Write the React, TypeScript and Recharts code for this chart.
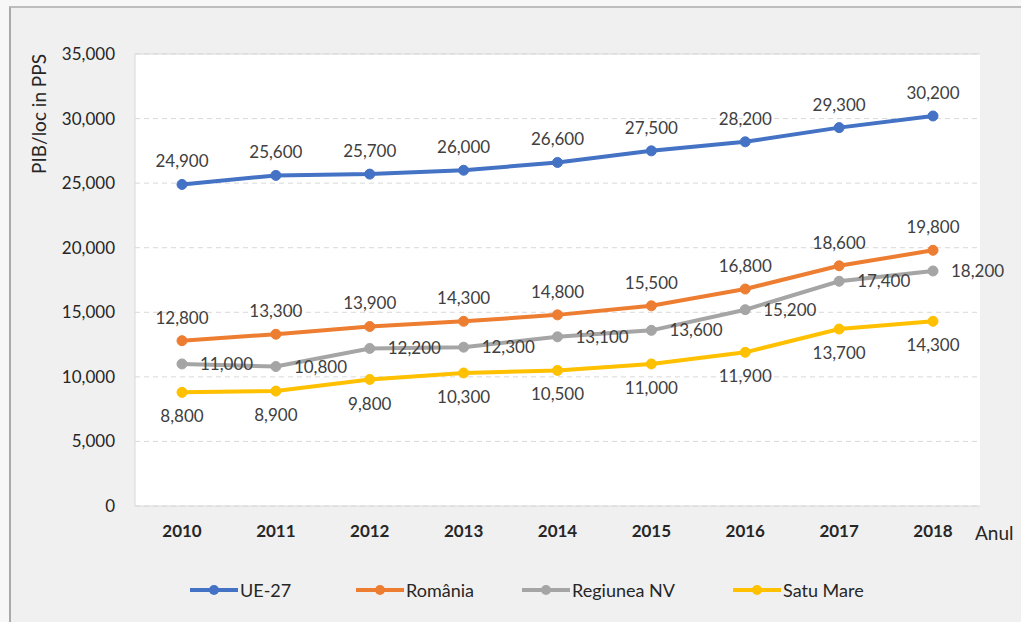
import React from 'react';
import {
  LineChart,
  Line,
  XAxis,
  YAxis,
  CartesianGrid,
  LabelList,
  ReferenceLine,
  Label
} from 'recharts';

// values (PIB/loc in PPS)
const years = ['2010', '2011', '2012', '2013', '2014', '2015', '2016', '2017', '2018'];
const ue27 = [24900, 25600, 25700, 26000, 26600, 27500, 28200, 29300, 30200];
const romania = [12800, 13300, 13900, 14300, 14800, 15500, 16800, 18600, 19800];
const regiuneaNV = [11000, 10800, 12200, 12300, 13100, 13600, 15200, 17400, 18200];
const satuMare = [8800, 8900, 9800, 10300, 10500, 11000, 11900, 13700, 14300];
const yTicks = [0, 5000, 10000, 15000, 20000, 25000, 30000, 35000];

const FONT = 'Lato, "Open Sans", sans-serif';

const series = [
  { key: 'ue27', name: 'UE-27', color: '#4472C4', pos: 'top', offset: 17, values: ue27 },
  { key: 'romania', name: 'România', color: '#ED7D31', pos: 'top', offset: 17, values: romania },
  { key: 'regiuneaNV', name: 'Regiunea NV', color: '#A5A5A5', pos: 'right', offset: 18, values: regiuneaNV },
  { key: 'satuMare', name: 'Satu Mare', color: '#FFC000', pos: 'bottom', offset: 18, values: satuMare }
] as const;

const data = years.map((year, i) => {
  const row: Record<string, string | number> = { year };
  series.forEach((s) => {
    row[s.key] = s.values[i];
  });
  return row;
});

const fmt = (v: any) => Number(v).toLocaleString('en-US');

const legendWidths = [166, 166, 211, 130];

const YTitle = (props: any) => {
  const vb = props.viewBox || { x: 0, y: 54 };
  const x = vb.x + 38;
  const y = vb.y + 60;
  return (
    <text
      x={x}
      y={y}
      transform={`rotate(-90, ${x}, ${y})`}
      textAnchor="middle"
      dominantBaseline="central"
      fontFamily={FONT}
      fontSize={19}
      fill="#262626"
    >
      PIB/loc in PPS
    </text>
  );
};

const XTitle = (props: any) => {
  const vb = props.viewBox || { x: 135, y: 506, width: 845 };
  return (
    <text
      x={vb.x + vb.width - 5}
      y={vb.y + 26}
      dominantBaseline="central"
      fontFamily={FONT}
      fontSize={19}
      fill="#262626"
    >
      Anul
    </text>
  );
};

export default function App() {
  return (
    <div style={{ position: 'fixed', left: 0, top: 0, width: 1021, height: 622, background: '#f7f7f7', overflow: 'hidden' }}>
      <div
        style={{
          position: 'absolute',
          left: 9,
          top: 6,
          width: 1030,
          height: 640,
          background: '#f0f0f0',
          borderLeft: '2px solid #a9a9a9',
          borderTop: '2px solid #bdbdbd'
        }}
      />
      <div style={{ position: 'absolute', left: 0, top: 0 }}>
        <LineChart
          width={1021}
          height={622}
          data={data}
          margin={{ top: 54, right: 41, left: 0, bottom: 86 }}
        >
          <CartesianGrid
            vertical={false}
            stroke="#d9d9d9"
            strokeDasharray="5 4"
            fill="#ffffff"
            fillOpacity={1}
          />
          <XAxis
            dataKey="year"
            padding={{ left: 47, right: 47 }}
            height={30}
            tickSize={0}
            tickMargin={19}
            axisLine={{ stroke: '#d9d9d9' }}
            tick={{ fill: '#262626', fontSize: 17, fontWeight: 700, fontFamily: FONT }}
          >
            <Label content={<XTitle />} />
          </XAxis>
          <YAxis
            width={135}
            domain={[0, 35000]}
            ticks={yTicks}
            tickFormatter={fmt}
            tickSize={0}
            tickMargin={20}
            axisLine={{ stroke: '#d9d9d9' }}
            tick={{ fill: '#262626', fontSize: 17, fontFamily: FONT }}
          >
            <Label content={<YTitle />} />
          </YAxis>
          <YAxis
            yAxisId="right"
            orientation="right"
            width={0}
            domain={[0, 35000]}
            tick={false}
            tickLine={false}
            axisLine={{ stroke: '#d9d9d9' }}
          />
          <ReferenceLine y={35000} stroke="#d9d9d9" strokeWidth={1} />
          {series.map((s) => (
            <Line
              key={s.key}
              type="linear"
              dataKey={s.key}
              name={s.name}
              stroke={s.color}
              strokeWidth={4}
              dot={{ r: 5, fill: s.color, stroke: s.color, strokeWidth: 1 }}
              activeDot={false}
              isAnimationActive={false}
            >
              <LabelList
                dataKey={s.key}
                position={s.pos}
                offset={s.offset}
                formatter={fmt}
                fill="#404040"
                fontSize={17}
                fontFamily={FONT}
              />
            </Line>
          ))}
        </LineChart>
      </div>
      <div
        style={{
          position: 'absolute',
          left: 190,
          top: 578,
          display: 'flex',
          alignItems: 'center',
          fontFamily: FONT,
          fontSize: 18,
          color: '#262626',
          whiteSpace: 'nowrap'
        }}
      >
        {series.map((s, i) => (
          <div key={s.key} style={{ width: legendWidths[i], display: 'flex', alignItems: 'center' }}>
            <svg width={50} height={24} style={{ flexShrink: 0 }}>
              <line x1={0} y1={12} x2={48} y2={12} stroke={s.color} strokeWidth={4} />
              <circle cx={24} cy={12} r={5} fill={s.color} />
            </svg>
            <span>{s.name}</span>
          </div>
        ))}
      </div>
    </div>
  );
}
